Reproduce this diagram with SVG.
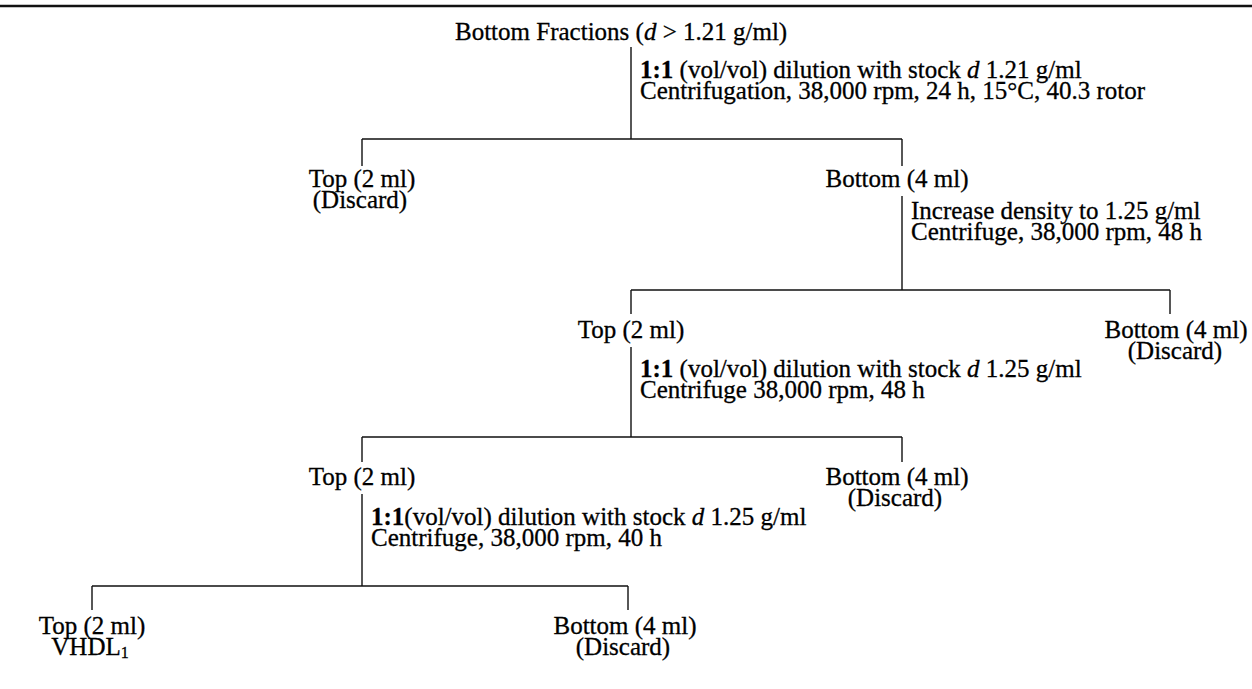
<svg xmlns="http://www.w3.org/2000/svg" width="1252" height="689" viewBox="0 0 1252 689">
<style>
text{font-family:"Liberation Serif","Times New Roman",serif;font-size:25px;fill:#000;stroke:#000;stroke-width:0.3}
.c{text-anchor:middle}
.b{font-weight:bold}
.i{font-style:italic}
.ln{stroke:#111;stroke-width:1.4;fill:none}
</style>
<rect x="0" y="0" width="1252" height="689" fill="#fff"/>
<line x1="0" y1="6" x2="1252" y2="6" stroke="#111" stroke-width="2.5"/>
<g id="connectors" class="ln">
<path d="M631 47V139M362 139H902M362 139V166M902 139V166"/>
<path d="M902 196V290M631 290H1170M631 290V314M1170 290V314"/>
<path d="M631 347V437M362 437H902M362 437V462M902 437V462"/>
<path d="M362 494V586M92 586H628M92 586V610M628 586V610"/>
</g>
<g id="n0"><text x="455" y="40">Bottom Fractions (<tspan class="i">d</tspan> &gt; 1.21 g/ml)</text></g>
<g id="a1"><text x="640" y="78"><tspan class="b">1:1</tspan> (vol/vol) dilution with stock <tspan class="i">d</tspan> 1.21 g/ml</text><text x="640" y="99">Centrifugation, 38,000 rpm, 24 h, 15°C, 40.3 rotor</text></g>
<g id="n1a"><text class="c" x="362" y="187">Top (2 ml)</text><text class="c" x="360" y="208">(Discard)</text></g>
<g id="n1b"><text class="c" x="897" y="187">Bottom (4 ml)</text></g>
<g id="a2"><text x="911" y="219">Increase density to 1.25 g/ml</text><text x="911" y="240">Centrifuge, 38,000 rpm, 48 h</text></g>
<g id="n2a"><text class="c" x="631" y="338">Top (2 ml)</text></g>
<g id="n2b"><text class="c" x="1176" y="338">Bottom (4 ml)</text><text class="c" x="1175" y="359">(Discard)</text></g>
<g id="a3"><text x="640" y="377"><tspan class="b">1:1</tspan> (vol/vol) dilution with stock <tspan class="i">d</tspan> 1.25 g/ml</text><text x="640" y="398">Centrifuge 38,000 rpm, 48 h</text></g>
<g id="n3a"><text class="c" x="362" y="485">Top (2 ml)</text></g>
<g id="n3b"><text class="c" x="897" y="485">Bottom (4 ml)</text><text class="c" x="895" y="506">(Discard)</text></g>
<g id="a4"><text x="371" y="525"><tspan class="b">1:1</tspan>(vol/vol) dilution with stock <tspan class="i">d</tspan> 1.25 g/ml</text><text x="371" y="546">Centrifuge, 38,000 rpm, 40 h</text></g>
<g id="n4a"><text class="c" x="92" y="634">Top (2 ml)</text><text class="c" x="90" y="655">VHDL<tspan font-size="16" dy="3">1</tspan></text></g>
<g id="n4b"><text class="c" x="625" y="634">Bottom (4 ml)</text><text class="c" x="623" y="655">(Discard)</text></g>
</svg>
